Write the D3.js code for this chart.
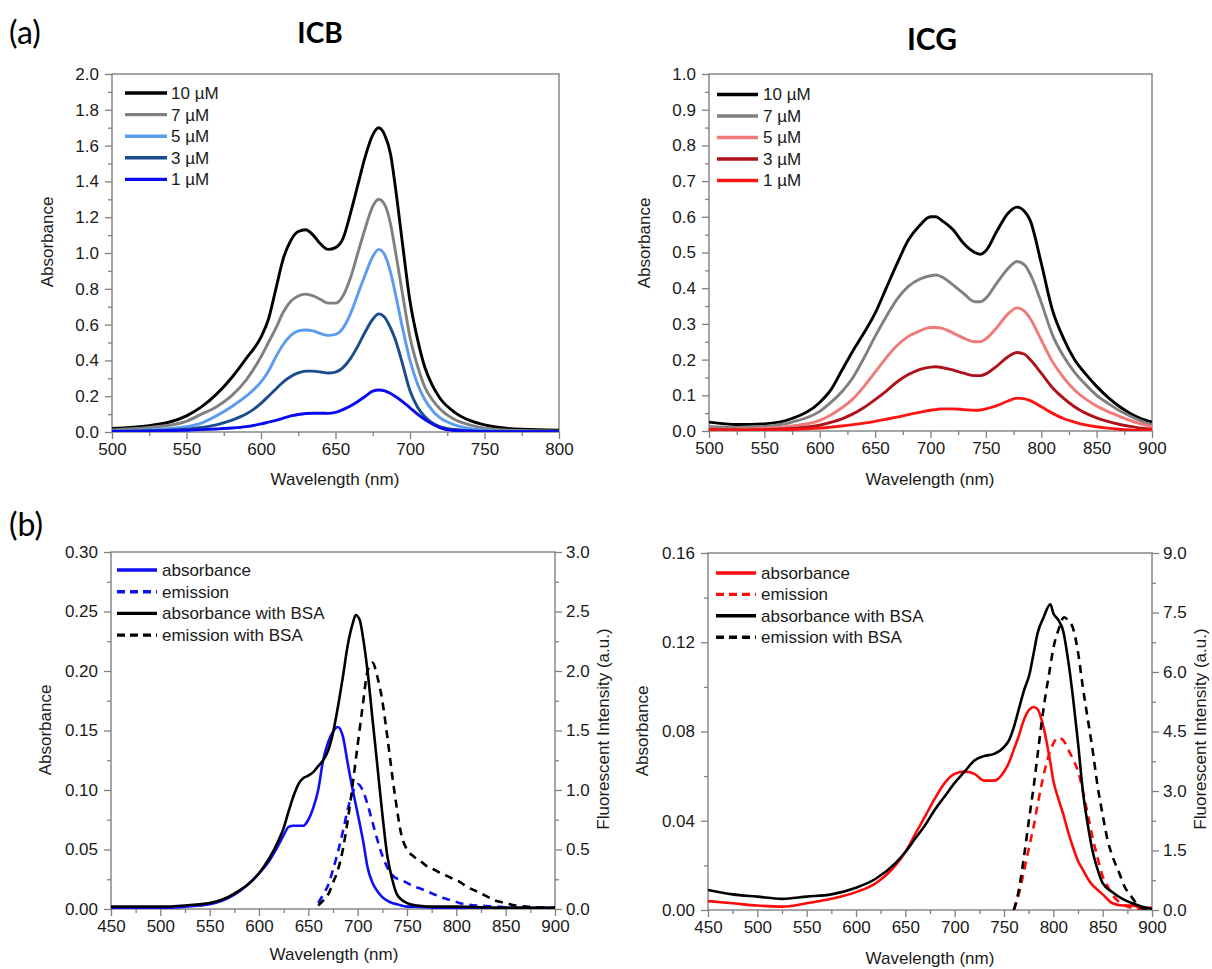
<!DOCTYPE html>
<html><head><meta charset="utf-8">
<script src="https://cdn.jsdelivr.net/npm/d3@7"></script>
<style>body{margin:0;background:#fff} svg{display:block}</style>
</head><body><svg id="c" width="1212" height="969"></svg>
<script>
// ---------------- DATA ----------------
// Panel (a) ICB
const icbWl = [500,525,550,560,570,580,590,600,605,610,615,620,625,630,635,640,645,650,655,660,665,670,675,679,683,687,690,695,700,705,710,715,720,730,740,750,760,775,800];
const icb10 = [0.02,0.035,0.09,0.14,0.21,0.30,0.41,0.53,0.63,0.80,0.97,1.07,1.12,1.13,1.10,1.05,1.02,1.03,1.08,1.22,1.38,1.54,1.66,1.70,1.66,1.55,1.38,1.05,0.73,0.52,0.36,0.26,0.19,0.11,0.065,0.04,0.025,0.015,0.01];
const icb7  = [0.012,0.025,0.06,0.10,0.14,0.20,0.29,0.42,0.50,0.58,0.67,0.73,0.76,0.77,0.76,0.74,0.72,0.72,0.76,0.86,1.00,1.14,1.26,1.30,1.27,1.16,1.02,0.77,0.53,0.37,0.25,0.18,0.13,0.07,0.04,0.022,0.013,0.008,0.005];
const icb5  = [0.005,0.012,0.03,0.05,0.09,0.14,0.20,0.28,0.34,0.42,0.49,0.54,0.565,0.57,0.565,0.55,0.54,0.545,0.58,0.66,0.77,0.88,0.98,1.02,0.99,0.89,0.78,0.58,0.40,0.27,0.18,0.12,0.08,0.04,0.02,0.01,0.005,0.003,0.002];
const icb3  = [0.004,0.007,0.015,0.025,0.04,0.065,0.10,0.16,0.20,0.24,0.28,0.31,0.33,0.34,0.34,0.335,0.33,0.335,0.36,0.41,0.48,0.56,0.63,0.66,0.64,0.58,0.52,0.38,0.23,0.14,0.085,0.05,0.03,0.014,0.007,0.004,0.002,0.001,0.001];
const icb1  = [0.003,0.005,0.01,0.013,0.017,0.022,0.03,0.045,0.055,0.065,0.078,0.09,0.098,0.103,0.105,0.105,0.104,0.11,0.125,0.145,0.17,0.20,0.228,0.235,0.23,0.215,0.20,0.17,0.135,0.10,0.07,0.045,0.025,0.008,0.004,0.002,0.001,0.001,0.001];
const icbLabels = ["10 µM","7 µM","5 µM","3 µM","1 µM"];
const icbYTicks = [0,0.2,0.4,0.6,0.8,1.0,1.2,1.4,1.6,1.8,2.0];
const icbXTicks = [500,550,600,650,700,750,800];

// Panel (a) ICG
const icgWl = [500,525,550,575,600,610,620,630,640,650,660,670,680,690,700,705,710,720,730,740,745,750,760,770,778,785,790,800,810,820,830,840,850,860,870,880,890,900];
const icg10 = [0.025,0.018,0.02,0.035,0.08,0.115,0.17,0.225,0.275,0.33,0.40,0.47,0.535,0.575,0.60,0.60,0.59,0.565,0.525,0.50,0.495,0.505,0.56,0.61,0.627,0.615,0.59,0.47,0.34,0.26,0.20,0.16,0.125,0.095,0.07,0.05,0.035,0.025];
const icg7  = [0.012,0.01,0.013,0.025,0.055,0.08,0.11,0.15,0.205,0.265,0.32,0.37,0.405,0.425,0.435,0.437,0.432,0.41,0.385,0.362,0.362,0.372,0.415,0.455,0.475,0.465,0.44,0.36,0.27,0.21,0.165,0.13,0.10,0.078,0.058,0.042,0.028,0.017];
const icg5  = [0.006,0.005,0.007,0.014,0.03,0.045,0.065,0.09,0.125,0.165,0.205,0.24,0.265,0.28,0.29,0.29,0.288,0.275,0.26,0.25,0.25,0.258,0.29,0.328,0.345,0.335,0.315,0.255,0.195,0.15,0.115,0.09,0.07,0.055,0.042,0.03,0.02,0.012];
const icg3  = [0.004,0.003,0.004,0.007,0.016,0.024,0.034,0.048,0.066,0.088,0.112,0.138,0.158,0.172,0.179,0.18,0.178,0.171,0.162,0.155,0.155,0.16,0.182,0.208,0.22,0.215,0.20,0.162,0.122,0.092,0.068,0.05,0.037,0.027,0.019,0.013,0.008,0.005];
const icg1  = [0.003,0.002,0.003,0.004,0.008,0.011,0.014,0.018,0.022,0.027,0.033,0.039,0.046,0.052,0.058,0.06,0.062,0.062,0.06,0.058,0.059,0.062,0.071,0.084,0.092,0.09,0.085,0.068,0.05,0.035,0.025,0.017,0.012,0.008,0.005,0.003,0.002,0.002];
const icgLabels = ["10 µM","7 µM","5 µM","3 µM","1 µM"];
const icgYTicks = [0,0.1,0.2,0.3,0.4,0.5,0.6,0.7,0.8,0.9,1.0];
const icgXTicks = [500,550,600,650,700,750,800,850,900];

// Panel (b) ICB
const bIcbAbsWl = [450,475,500,525,550,575,600,610,620,625,630,635,640,645,650,655,660,665,670,675,680,685,690,695,698,702,706,710,715,720,725,730,735,740,750,760,780,800,850,900];
const bIcbAbs    = [0.001,0.001,0.001,0.002,0.004,0.012,0.03,0.04,0.054,0.062,0.069,0.07,0.07,0.07,0.075,0.085,0.10,0.125,0.14,0.149,0.153,0.145,0.122,0.10,0.088,0.072,0.055,0.035,0.022,0.015,0.01,0.007,0.005,0.004,0.002,0.002,0.001,0.001,0.001,0.001];
const bIcbAbsBsa = [0.002,0.002,0.002,0.003,0.005,0.013,0.03,0.042,0.058,0.068,0.082,0.095,0.105,0.11,0.112,0.115,0.12,0.125,0.133,0.148,0.17,0.195,0.222,0.24,0.247,0.243,0.225,0.20,0.16,0.12,0.08,0.045,0.025,0.012,0.005,0.003,0.002,0.002,0.001,0.001];
const bIcbEmWl = [660,665,670,675,680,685,690,695,700,705,710,715,720,725,730,737,745,750,757,764,770,780,784,790,800,803,810,820,830,840,850,860,880,900];
const bIcbEm    = [0.05,0.12,0.2,0.33,0.48,0.65,0.84,0.98,1.05,1.0,0.88,0.73,0.58,0.45,0.35,0.27,0.24,0.22,0.19,0.17,0.15,0.115,0.10,0.085,0.06,0.05,0.04,0.03,0.025,0.02,0.015,0.01,0.005,0.003];
const bIcbEmBsa = [0.03,0.07,0.12,0.22,0.33,0.5,0.75,1.05,1.38,1.7,2.0,2.07,1.95,1.75,1.45,1.0,0.6,0.5,0.44,0.4,0.36,0.32,0.3,0.28,0.24,0.23,0.19,0.15,0.11,0.07,0.05,0.03,0.015,0.01];
const bIcbLabels = ["absorbance","emission","absorbance with BSA","emission with BSA"];
const bIcbYTicks = [0,0.05,0.10,0.15,0.20,0.25,0.30];
const bIcbY2Ticks = [0,0.5,1.0,1.5,2.0,2.5,3.0];
const bXTicks = [450,500,550,600,650,700,750,800,850,900];

// Panel (b) ICG
const bIcgAbsWl = [450,475,500,525,550,575,600,620,640,650,660,670,680,690,700,710,720,730,740,750,755,760,765,770,776,780,784,790,797,800,805,810,815,820,825,830,835,840,845,850,860,870,880,890,900];
const bIcgAbs    = [0.004,0.003,0.002,0.0015,0.003,0.005,0.008,0.012,0.02,0.026,0.034,0.042,0.05,0.057,0.061,0.062,0.061,0.058,0.058,0.062,0.066,0.072,0.078,0.085,0.09,0.091,0.09,0.082,0.066,0.058,0.05,0.043,0.035,0.028,0.022,0.018,0.014,0.011,0.009,0.007,0.003,0.002,0.002,0.001,0.001];
const bIcgAbsBsa = [0.009,0.007,0.006,0.005,0.006,0.007,0.01,0.014,0.021,0.026,0.032,0.038,0.045,0.051,0.057,0.062,0.067,0.069,0.07,0.073,0.076,0.082,0.09,0.098,0.106,0.115,0.124,0.131,0.137,0.133,0.13,0.125,0.112,0.095,0.075,0.053,0.038,0.026,0.018,0.012,0.008,0.005,0.003,0.0015,0.0005];
const bIcgEmWl = [760,765,770,776,780,784,788,792,796,800,805,811,815,820,825,830,835,840,845,850,855,860,867,872,879,885,890,900];
const bIcgEm    = [0,0.4,0.95,1.65,2.1,2.65,3.15,3.6,3.95,4.2,4.35,4.25,4.05,3.8,3.5,3.0,2.4,1.8,1.3,0.85,0.6,0.38,0.2,0.12,0.06,0.03,0.01,0];
const bIcgEmBsa = [0,0.5,1.3,2.4,3.1,3.9,4.7,5.4,6.0,6.6,7.05,7.38,7.3,7.1,6.5,5.6,4.8,4.0,3.1,2.4,1.76,1.35,0.92,0.6,0.34,0.15,0.05,0];
const bIcgLabels = ["absorbance","emission","absorbance with BSA","emission with BSA"];
const bIcgYTicks = [0,0.04,0.08,0.12,0.16];
const bIcgY2Ticks = [0,1.5,3.0,4.5,6.0,7.5,9.0];

// ---------------- DRAWING ----------------
const svg = d3.select("#c");
const FONT = "'Liberation Sans', Arial, sans-serif";
const TXT = "#1a1a1a";
const FRAME = "#808080";

function minorOf(ticks){
  const out=[];
  for(let i=0;i<ticks.length-1;i++) out.push((ticks[i]+ticks[i+1])/2);
  return out;
}
function styleAxis(s){
  s.select(".domain").remove();
  s.selectAll("line").attr("stroke",FRAME).attr("stroke-width",1.3);
  s.selectAll("text").attr("fill",TXT).attr("font-family",FONT).attr("font-size",17);
}
let clipId=0;
function drawPanel(c){
  const g = svg.append("g");
  const x = d3.scaleLinear().domain(c.xDomain).range([c.left,c.right]);
  const y = d3.scaleLinear().domain(c.yDomain).range([c.bottom,c.top]);
  const y2 = c.y2Domain ? d3.scaleLinear().domain(c.y2Domain).range([c.bottom,c.top]) : null;

  g.append("g").attr("transform",`translate(0,${c.bottom})`)
    .call(d3.axisBottom(x).tickValues(minorOf(c.xTicks)).tickSize(4).tickFormat("")).call(styleAxis);
  g.append("g").attr("transform",`translate(0,${c.bottom})`)
    .call(d3.axisBottom(x).tickValues(c.xTicks).tickSize(7).tickPadding(4).tickFormat(d3.format("d"))).call(styleAxis);
  g.append("g").attr("transform",`translate(${c.left},0)`)
    .call(d3.axisLeft(y).tickValues(minorOf(c.yTicks)).tickSize(4).tickFormat("")).call(styleAxis);
  g.append("g").attr("transform",`translate(${c.left},0)`)
    .call(d3.axisLeft(y).tickValues(c.yTicks).tickSize(7).tickPadding(6).tickFormat(d3.format(c.yFmt))).call(styleAxis);
  if(y2){
    g.append("g").attr("transform",`translate(${c.right},0)`)
      .call(d3.axisRight(y2).tickValues(minorOf(c.y2Ticks)).tickSize(4).tickFormat("")).call(styleAxis);
    g.append("g").attr("transform",`translate(${c.right},0)`)
      .call(d3.axisRight(y2).tickValues(c.y2Ticks).tickSize(7).tickPadding(4).tickFormat(d3.format(c.y2Fmt))).call(styleAxis);
  }
  g.append("rect").attr("x",c.left).attr("y",c.top).attr("width",c.right-c.left).attr("height",c.bottom-c.top)
    .attr("fill","none").attr("stroke",FRAME).attr("stroke-width",1.4);

  const id="clip"+(clipId++);
  svg.append("clipPath").attr("id",id).append("rect")
    .attr("x",c.left).attr("y",c.top-2).attr("width",c.right-c.left).attr("height",c.bottom-c.top+2);

  const lines = g.append("g").attr("clip-path",`url(#${id})`);
  c.series.slice().sort((a,b)=>a.order-b.order).forEach(s=>{
    const sc = s.right ? y2 : y;
    const line = d3.line().x((d,i)=>x(s.wl[i])).y(d=>sc(d)).curve(d3.curveMonotoneX);
    lines.append("path").attr("d",line(s.values)).attr("fill","none")
      .attr("stroke",s.color).attr("stroke-width",c.lw).attr("stroke-linejoin","round")
      .attr("stroke-dasharray",s.dash?"8,6":null);
  });

  c.series.forEach((s,i)=>{
    const ly = c.legend.y0 + i*c.legend.dy;
    g.append("line").attr("x1",c.legend.x1).attr("x2",c.legend.x2).attr("y1",ly).attr("y2",ly)
      .attr("stroke",s.color).attr("stroke-width",3.4).attr("stroke-dasharray",s.dash?"8,5":null);
    g.append("text").attr("x",c.legend.tx).attr("y",ly).attr("dy","0.35em")
      .attr("font-family",FONT).attr("font-size",17).attr("fill",TXT).text(s.label);
  });

  g.append("text").attr("x",c.xTitle[0]).attr("y",c.xTitle[1]).attr("text-anchor","middle")
    .attr("font-family",FONT).attr("font-size",17).attr("fill",TXT).text("Wavelength (nm)");
  g.append("text").attr("transform",`translate(${c.yTitle[0]},${c.yTitle[1]}) rotate(-90)`)
    .attr("text-anchor","middle").attr("dy","0.35em")
    .attr("font-family",FONT).attr("font-size",17).attr("fill",TXT).text("Absorbance");
  if(c.y2Title){
    g.append("text").attr("transform",`translate(${c.y2Title[0]},${c.y2Title[1]}) rotate(-90)`)
      .attr("text-anchor","middle").attr("dy","0.35em")
      .attr("font-family",FONT).attr("font-size",17).attr("fill",TXT).text("Fluorescent Intensity (a.u.)");
  }
}

drawPanel({
  left:112,right:559,top:74,bottom:432,xDomain:[500,800],yDomain:[0,2.0],
  xTicks:icbXTicks,yTicks:icbYTicks,yFmt:".1f",lw:2.9,
  series:[
    {label:icbLabels[0],wl:icbWl,values:icb10,color:"#000000",order:0},
    {label:icbLabels[1],wl:icbWl,values:icb7,color:"#808080",order:1},
    {label:icbLabels[2],wl:icbWl,values:icb5,color:"#5b9cf0",order:2},
    {label:icbLabels[3],wl:icbWl,values:icb3,color:"#1b4c8e",order:3},
    {label:icbLabels[4],wl:icbWl,values:icb1,color:"#0a0af0",order:4}
  ],
  legend:{x1:125,x2:167,tx:171,y0:93,dy:21.6},
  xTitle:[335,485],yTitle:[47,242]
});
drawPanel({
  left:709,right:1152,top:74,bottom:431,xDomain:[500,900],yDomain:[0,1.0],
  xTicks:icgXTicks,yTicks:icgYTicks,yFmt:".1f",lw:2.9,
  series:[
    {label:icgLabels[0],wl:icgWl,values:icg10,color:"#000000",order:0},
    {label:icgLabels[1],wl:icgWl,values:icg7,color:"#808080",order:1},
    {label:icgLabels[2],wl:icgWl,values:icg5,color:"#f07a7a",order:2},
    {label:icgLabels[3],wl:icgWl,values:icg3,color:"#b0121a",order:3},
    {label:icgLabels[4],wl:icgWl,values:icg1,color:"#ff1414",order:4}
  ],
  legend:{x1:717,x2:758,tx:763,y0:94.5,dy:21.5},
  xTitle:[930,485],yTitle:[644,243]
});
drawPanel({
  left:111,right:555,top:552,bottom:909,xDomain:[450,900],yDomain:[0,0.30],y2Domain:[0,3.0],
  xTicks:bXTicks,yTicks:bIcbYTicks,yFmt:".2f",y2Ticks:bIcbY2Ticks,y2Fmt:".1f",lw:2.6,
  series:[
    {label:bIcbLabels[0],wl:bIcbAbsWl,values:bIcbAbs,color:"#0f0ff5",order:0},
    {label:bIcbLabels[1],wl:bIcbEmWl,values:bIcbEm,color:"#0f0ff5",dash:true,right:true,order:1},
    {label:bIcbLabels[2],wl:bIcbAbsWl,values:bIcbAbsBsa,color:"#000000",order:2},
    {label:bIcbLabels[3],wl:bIcbEmWl,values:bIcbEmBsa,color:"#000000",dash:true,right:true,order:3}
  ],
  legend:{x1:117,x2:157,tx:162,y0:570,dy:21.7},
  xTitle:[334,960],yTitle:[45,730],y2Title:[603,729]
});
drawPanel({
  left:708,right:1152,top:553,bottom:910,xDomain:[450,900],yDomain:[0,0.16],y2Domain:[0,9.0],
  xTicks:bXTicks,yTicks:bIcgYTicks,yFmt:".2f",y2Ticks:bIcgY2Ticks,y2Fmt:".1f",lw:2.6,
  series:[
    {label:bIcgLabels[0],wl:bIcgAbsWl,values:bIcgAbs,color:"#ff0a0a",order:0},
    {label:bIcgLabels[1],wl:bIcgEmWl,values:bIcgEm,color:"#ff0a0a",dash:true,right:true,order:1},
    {label:bIcgLabels[2],wl:bIcgAbsWl,values:bIcgAbsBsa,color:"#000000",order:2},
    {label:bIcgLabels[3],wl:bIcgEmWl,values:bIcgEmBsa,color:"#000000",dash:true,right:true,order:3}
  ],
  legend:{x1:716,x2:756,tx:761,y0:573,dy:21.4},
  xTitle:[930,964],yTitle:[642,731],y2Title:[1200,729]
});

const HEAD = "Lato, 'Open Sans', sans-serif";
svg.append("text").attr("x",9).attr("y",44).attr("font-family",HEAD).attr("font-size",32).attr("fill","#000").text("(a)");
svg.append("text").attr("x",9).attr("y",536).attr("font-family",HEAD).attr("font-size",32).attr("fill","#000").text("(b)");
svg.append("text").attr("x",320).attr("y",43).attr("text-anchor","middle").attr("font-family",HEAD).attr("font-weight","bold").attr("font-size",28).attr("fill","#000").text("ICB");
svg.append("text").attr("x",932).attr("y",50).attr("text-anchor","middle").attr("font-family",HEAD).attr("font-weight","bold").attr("font-size",30).attr("fill","#000").text("ICG");
</script></body></html>
